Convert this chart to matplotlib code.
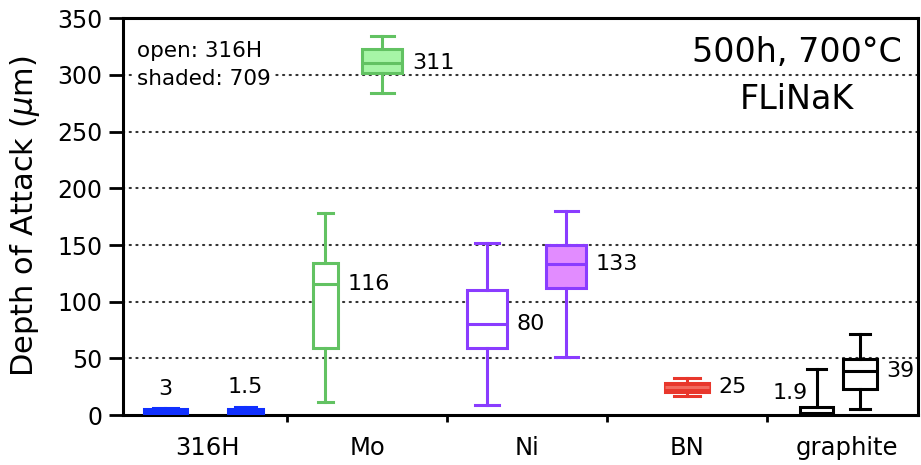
import matplotlib.pyplot as plt
from matplotlib.ticker import FixedLocator

plt.rcParams['font.family'] = ['DejaVu Sans']
plt.rcParams['mathtext.fontset'] = 'dejavusans'

# materials on the x axis
categories = ['316H', 'Mo', 'Ni', 'BN', 'graphite']

# box statistics (whislo, q1, med, q3, whishi) in um; None = no sample
open_316h = [
    (0.5, 1.5, 3, 5, 6),
    (11.5, 59, 116, 134, 178),
    (9, 59, 80, 110, 151.5),
    None,
    (0.2, 0.4, 1.9, 7.3, 41),
]
shaded_709 = [
    (0.2, 0.5, 1.5, 5.3, 7.3),
    (284, 302, 311, 323, 334.5),
    (51, 112, 133, 150.3, 180.3),
    (17, 20, 25, 28, 32.4),
    (5, 23, 39, 49.4, 71.5),
]
open_labels = ['3', '116', '80', None, '1.9']
shaded_labels = ['1.5', '311', '133', '25', '39']

# layout: offsets from category centre and box widths (in category units)
open_off = [-0.26, -0.26, -0.25, 0, -0.19]
open_w = [0.27, 0.16, 0.25, 0, 0.21]
shaded_off = [0.24, 0.095, 0.245, 0.0, 0.08]
shaded_w = [0.22, 0.25, 0.25, 0.27, 0.21]

edge_cols = ['#1030ff', '#62c262', '#8a3cff', '#e8372c', '#000000']
fill_cols = ['#1030ff', '#a6f5a6', '#e28cff', '#e8372c', '#ffffff']

fig = plt.figure(figsize=(9.21, 4.65), dpi=100)
ax = fig.add_axes([0.1336, 0.1075, 0.8632, 0.8531])

lw = 2.2


def draw_box(i, st, pos, w, fill, edge, med_col):
    d = dict(whislo=st[0], q1=st[1], med=st[2], q3=st[3], whishi=st[4])
    ax.bxp([d], positions=[i + pos], widths=[w], capwidths=[w * 0.58],
           showfliers=False, patch_artist=True,
           boxprops=dict(facecolor=fill, edgecolor=edge, linewidth=lw),
           medianprops=dict(color=med_col, linewidth=lw),
           whiskerprops=dict(color=edge, linewidth=lw),
           capprops=dict(color=edge, linewidth=lw),
           manage_ticks=False, zorder=3)


for i in range(len(categories)):
    ec = edge_cols[i]
    st = open_316h[i]
    if st is not None:
        fc = ec if i == 0 else 'white'
        draw_box(i, st, open_off[i], open_w[i], fc, ec, ec)
    st = shaded_709[i]
    if st is not None:
        med_col = '#f26a5e' if i == 3 else ec
        draw_box(i, st, shaded_off[i], shaded_w[i], fill_cols[i], ec, med_col)

# value labels
for i in range(len(categories)):
    for st, lab, off, w in ((open_316h[i], open_labels[i], open_off[i], open_w[i]),
                            (shaded_709[i], shaded_labels[i], shaded_off[i], shaded_w[i])):
        if st is None or lab is None:
            continue
        x = i + off
        if i == 0:
            ax.annotate(lab, (x, st[4]), xytext=(0, 14), textcoords='offset points',
                        ha='center', va='center', fontsize=16)
        elif lab == '1.9':
            ax.annotate(lab, (x, st[2]), xytext=(-6, 14), textcoords='offset points',
                        ha='right', va='center', fontsize=16)
        else:
            ax.annotate(lab, (x + w / 2, st[2]), xytext=(7, 0), textcoords='offset points',
                        ha='left', va='center', fontsize=16)

ax.set_xlim(-0.525, 4.444)
ax.set_ylim(0, 350)
ax.set_yticks(range(0, 351, 50))
for y in range(50, 301, 50):
    ax.axhline(y, color='#333333', linestyle=(0, (0.6, 2.6)), linewidth=1.5,
               dash_capstyle='round', zorder=1)

ax.set_xticks(range(len(categories)))
ax.set_xticklabels(categories)
ax.xaxis.set_minor_locator(FixedLocator([0.5, 1.5, 2.5, 3.5]))
ax.tick_params(axis='x', which='major', length=0, pad=15, labelsize=17.5)
ax.tick_params(axis='x', which='minor', length=5, width=2, direction='out')
ax.tick_params(axis='y', length=10, width=2, pad=5, labelsize=17)

for s in ax.spines.values():
    s.set_linewidth(2.2)

ax.set_ylabel(r'Depth of Attack ($\mu$m)', fontsize=22, labelpad=11)

ax.text(0.017, 0.942, 'open: 316H\nshaded: 709', transform=ax.transAxes,
        ha='left', va='top', fontsize=15.5, linespacing=1.5, zorder=4,
        bbox=dict(facecolor='white', edgecolor='none', pad=1))
ax.text(0.847, 0.955, '500h, 700\u00b0C\nFLiNaK', transform=ax.transAxes,
        ha='center', va='top', fontsize=24, linespacing=1.55, multialignment='center')

fig.savefig('out.png', dpi=100)
